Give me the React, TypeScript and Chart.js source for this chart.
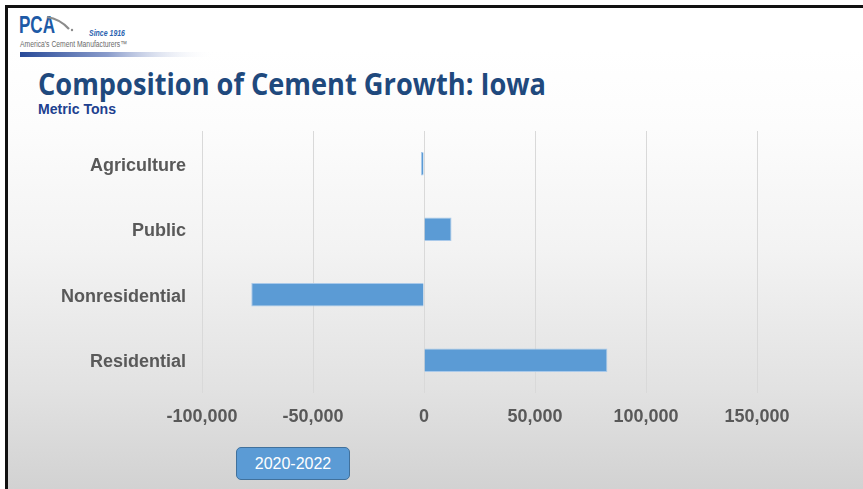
import React, { useEffect, useRef } from "react";
import { Chart, registerables } from "chart.js";

Chart.register(...registerables);

const categories: string[] = ["Agriculture", "Public", "Nonresidential", "Residential"];
const growth: number[] = [-1400, 12400, -77800, 82600];
const xMin = -100000;
const xMax = 150000;
const xStep = 50000;
const seriesLabel = "2020-2022";
const title = "Composition of Cement Growth: Iowa";
const subtitle = "Metric Tons";

const W = 863;
const H = 489;

export default function App() {
  const ref = useRef<HTMLCanvasElement | null>(null);

  useEffect(() => {
    if (!ref.current) return;
    const chart = new Chart(ref.current, {
      type: "bar",
      data: {
        labels: categories,
        datasets: [
          {
            label: seriesLabel,
            data: growth,
            backgroundColor: "#5b9bd5",
            borderColor: "#a9c9ea",
            borderWidth: 1,
            barPercentage: 0.36,
            categoryPercentage: 1,
          },
        ],
      },
      options: {
        indexAxis: "y",
        animation: false,
        responsive: false,
        maintainAspectRatio: false,
        devicePixelRatio: 1,
        layout: { padding: { left: 0, top: 131, right: 106, bottom: 0 } },
        plugins: {
          legend: { display: false },
          tooltip: { enabled: false },
          title: { display: false },
        },
        scales: {
          x: {
            type: "linear",
            min: xMin,
            max: xMax,
            afterFit: (s: any) => {
              s.height = 96;
            },
            ticks: {
              stepSize: xStep,
              padding: 13,
              color: "#595959",
              font: { family: "'Liberation Sans', Arial, sans-serif", size: 18, weight: "bold" },
              callback: (v: any) => Number(v).toLocaleString("en-US"),
            },
            grid: { color: "#d9d9d9", lineWidth: 1, drawTicks: false },
            border: { display: false },
          },
          y: {
            afterFit: (s: any) => {
              s.width = 202;
            },
            ticks: {
              padding: 16,
              labelOffset: 2,
              color: "#595959",
              font: { family: "'Liberation Sans', Arial, sans-serif", size: 18, weight: "bold" },
            },
            grid: { display: false, drawTicks: false },
            border: { display: false },
          },
        },
      },
    });
    return () => chart.destroy();
  }, []);

  return (
    <div
      style={{
        position: "absolute",
        left: 0,
        top: 0,
        width: W,
        height: H,
        background: "#ffffff",
        overflow: "hidden",
      }}
    >
      <div
        style={{
          position: "absolute",
          left: 5,
          top: 5,
          right: 0,
          bottom: 0,
          borderTop: "3px solid #111",
          borderLeft: "3px solid #111",
          background:
            "linear-gradient(to bottom, #ffffff 0%, #ffffff 8.7%, #fcfcfc 25%, #f3f3f3 50%, #e2e2e2 79%, #d2d2d2 100%)",
        }}
      />
      <svg
        width={W}
        height={H}
        style={{ position: "absolute", left: 0, top: 0 }}
      >
        <defs>
          <linearGradient id="bar" x1="0" x2="1" y1="0" y2="0">
            <stop offset="0%" stopColor="#284a98" />
            <stop offset="45%" stopColor="#8a9ccb" />
            <stop offset="100%" stopColor="#ffffff" stopOpacity="0" />
          </linearGradient>
        </defs>
        <text
          x={19}
          y={33}
          fontFamily="'Liberation Sans Narrow', 'Liberation Sans', Arial, sans-serif"
          fontWeight="bold"
          fontSize={24}
          fill="#1d5aa6"
          textLength={36}
          lengthAdjust="spacingAndGlyphs"
        >
          PCA
        </text>
        <path d="M47 17 Q60 19 69 29" stroke="#8c8c8c" strokeWidth={2.2} fill="none" />
        <circle cx={72} cy={30} r={1.2} fill="#8c8c8c" />
        <text
          x={89}
          y={36}
          fontFamily="'Liberation Sans Narrow', 'Liberation Sans', Arial, sans-serif"
          fontStyle="italic"
          fontWeight="bold"
          fontSize={9.5}
          fill="#2a63b0"
          textLength={36}
          lengthAdjust="spacingAndGlyphs"
        >
          Since 1916
        </text>
        <text
          x={20}
          y={47}
          fontFamily="'Liberation Sans Narrow', 'Liberation Sans', Arial, sans-serif"
          fontSize={8.5}
          fill="#6b6b6b"
          textLength={107}
          lengthAdjust="spacingAndGlyphs"
        >
          America's Cement Manufacturers™
        </text>
        <rect x={20} y={52} width={195} height={5} fill="url(#bar)" />
        <text
          x={38}
          y={95}
          fontFamily="'Open Sans', 'Noto Sans', sans-serif"
          fontWeight="bold"
          fontSize={30}
          fill="#1f497d"
          textLength={508}
          lengthAdjust="spacingAndGlyphs"
        >
          {title}
        </text>
        <text
          x={38}
          y={114}
          fontFamily="'Liberation Sans', Arial, sans-serif"
          fontWeight="bold"
          fontSize={15}
          fill="#203f8f"
          textLength={78}
          lengthAdjust="spacingAndGlyphs"
        >
          {subtitle}
        </text>
      </svg>
      <canvas
        ref={ref}
        width={W}
        height={H}
        style={{ position: "absolute", left: 0, top: 0, width: W, height: H }}
      />
      <div
        style={{
          position: "absolute",
          left: 236,
          top: 447,
          width: 114,
          height: 33,
          boxSizing: "border-box",
          background: "#5b9bd5",
          border: "1px solid #41719c",
          borderRadius: 5,
          color: "#ffffff",
          fontFamily: "'Liberation Sans', Arial, sans-serif",
          fontSize: 16,
          display: "flex",
          alignItems: "center",
          justifyContent: "center",
        }}
      >
        {seriesLabel}
      </div>
    </div>
  );
}
